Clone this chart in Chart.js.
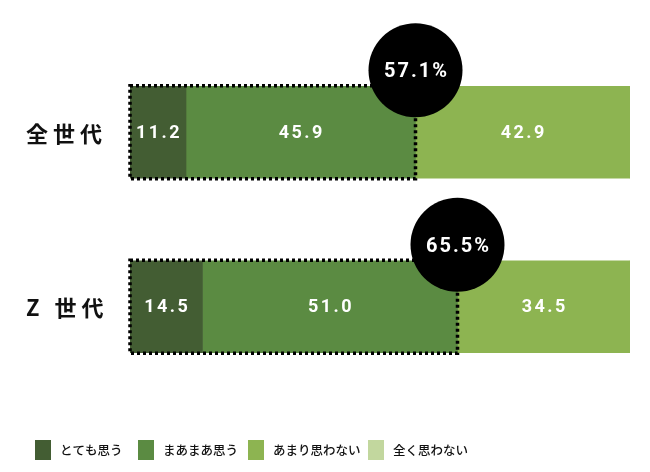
<!DOCTYPE html>
<html><head><meta charset="utf-8">
<script src="https://cdn.jsdelivr.net/npm/chart.js@4/dist/chart.umd.min.js"></script>
<style>html,body{margin:0;padding:0;background:#fff}#wrap{width:650px;height:472px}</style>
</head><body><div id="wrap"><canvas id="c" width="650" height="472"></canvas></div>
<script>
const categories = ['全世代', 'Z 世代'];
const seriesNames = ['とても思う', 'まあまあ思う', 'あまり思わない', '全く思わない'];
const veryMuch = [11.2, 14.5];
const somewhat = [45.9, 51.0];
const notMuch = [42.9, 34.5];
const notAtAll = [0, 0];
const colors = ['#435d33', '#5b8b42', '#8db451', '#c2d79e'];

const seriesData = [veryMuch, somewhat, notMuch, notAtAll];

const overlayPlugin = {
  id: 'overlay',
  afterDatasetsDraw(chart) {
    const ctx = chart.ctx;
    const xs = chart.scales.x, ys = chart.scales.y;
    // value labels
    ctx.save();
    ctx.fillStyle = '#fff';
    ctx.font = 'bold 18px Roboto';
    ctx.letterSpacing = '2.5px';
    ctx.textAlign = 'center';
    ctx.textBaseline = 'middle';
    chart.data.datasets.forEach((ds, di) => {
      const meta = chart.getDatasetMeta(di);
      meta.data.forEach((el, i) => {
        const v = ds.data[i];
        if (!v) return;
        const p = el.getCenterPoint();
        ctx.fillText(v.toFixed(1), p.x + 1, p.y + 1);
      });
    });
    ctx.restore();
    // dotted boxes and circles
    categories.forEach((c, i) => {
      const el = chart.getDatasetMeta(0).data[i];
      const top = el.y - el.height / 2, bottom = el.y + el.height / 2;
      const sum = veryMuch[i] + somewhat[i];
      const x0 = xs.getPixelForValue(0), x1 = xs.getPixelForValue(sum);
      ctx.save();
      ctx.strokeStyle = '#000';
      ctx.lineWidth = 3.5;
      ctx.setLineDash([3, 3]);
      ctx.strokeRect(x0, top - 0.5, x1 - x0, bottom - top + 1);
      ctx.restore();
      ctx.save();
      ctx.fillStyle = '#000';
      ctx.beginPath();
      ctx.arc(x1, top - 16, 47, 0, Math.PI * 2);
      ctx.fill();
      ctx.fillStyle = '#fff';
      ctx.font = 'bold 20px Roboto';
      ctx.letterSpacing = '2px';
      ctx.textAlign = 'center';
      ctx.textBaseline = 'middle';
      ctx.fillText(sum.toFixed(1) + '%', x1 + 1, top - 14);
      ctx.restore();
      // category label
      ctx.save();
      ctx.fillStyle = '#111';
      ctx.font = 'bold 22px "Noto Sans CJK JP"';
      ctx.letterSpacing = '5px';
      ctx.textAlign = 'left';
      ctx.textBaseline = 'middle';
      ctx.fillText(c, 26, ys.getPixelForValue(i) + 1);
      ctx.restore();
    });
    // legend
    const legendX = [35, 138, 248, 368];
    ctx.save();
    ctx.font = '500 12.5px "Noto Sans CJK JP"';
    ctx.textBaseline = 'middle';
    ctx.textAlign = 'left';
    chart.data.datasets.forEach((ds, di) => {
      const x = legendX[di];
      ctx.fillStyle = ds.backgroundColor;
      ctx.fillRect(x, 440, 16, 20);
      ctx.fillStyle = '#111';
      ctx.fillText(ds.label, x + 25, 450);
    });
    ctx.restore();
  }
};

new Chart(document.getElementById('c'), {
  type: 'bar',
  data: {
    labels: categories,
    datasets: seriesNames.map((n, i) => ({
      label: n,
      data: seriesData[i],
      backgroundColor: colors[i],
      borderWidth: 0,
      barThickness: 92
    }))
  },
  options: {
    indexAxis: 'y',
    responsive: false,
    animation: false,
    devicePixelRatio: 1,
    layout: { padding: { left: 130, right: 20, top: 45, bottom: 78 } },
    scales: {
      x: { stacked: true, min: 0, max: 100, display: false },
      y: { stacked: true, display: false }
    },
    plugins: { legend: { display: false }, tooltip: { enabled: false } }
  },
  plugins: [overlayPlugin]
});
</script>
</body></html>
